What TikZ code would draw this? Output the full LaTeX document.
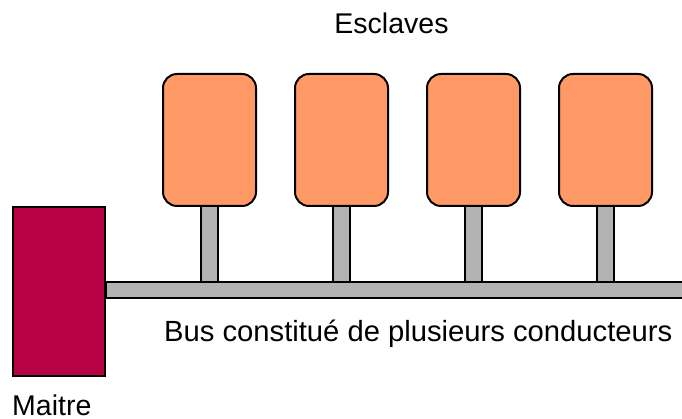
\documentclass[tikz,border=0pt]{standalone}
\usepackage{fontspec}
\setmainfont{Liberation Sans}
\usetikzlibrary{backgrounds}
\definecolor{slavefill}{HTML}{FF9966}
\definecolor{masterfill}{HTML}{B80044}
\definecolor{busgray}{HTML}{B3B3B3}
\begin{document}
\begin{tikzpicture}[x=1pt,y=1pt,
  slavebox/.style={draw=black,line width=2pt,fill=slavefill,rounded corners=14pt,
    minimum width=93pt,minimum height=132pt,inner sep=0pt},
  masterbox/.style={draw=black,line width=2pt,fill=masterfill,
    minimum width=92pt,minimum height=169pt,inner sep=0pt},
  busbar/.style={draw=black,line width=2pt,fill=busgray,inner sep=0pt,
    minimum width=595pt,minimum height=16pt},
  stub/.style={draw=black,line width=2pt,double=busgray,double distance=15pt},
  lbl/.style={inner sep=0pt,font=\fontsize{28.5}{34}\selectfont}]
\useasboundingbox (0,0) rectangle (682,419);
% bus
\coordinate (busL) at (105,120);
\node[busbar,anchor=south west] (bus) at (busL) {};
% slaves
\foreach \i/\x in {1/209.5,2/341.5,3/473.5,4/605.5}{
  \node[slavebox] (s\i) at (\x,279) {};
}
% stubs behind
\begin{scope}[on background layer]
\foreach \i in {1,2,3,4}{
  \draw[stub] (s\i.south) -- (s\i.south |- bus.north);
}
\end{scope}
% master
\node[masterbox] (master) at (59,127.5) {};
% labels
\node[lbl,anchor=base] (esc) at (391.5,385) {Esclaves};
\node[lbl,anchor=base west,font=\fontsize{29.2}{34}\selectfont] (buslbl) at (164,77) {Bus constitué de plusieurs conducteurs};
\node[lbl,anchor=base west] (mlbl) at (12,3.5) {Maitre};
\end{tikzpicture}
\end{document}
